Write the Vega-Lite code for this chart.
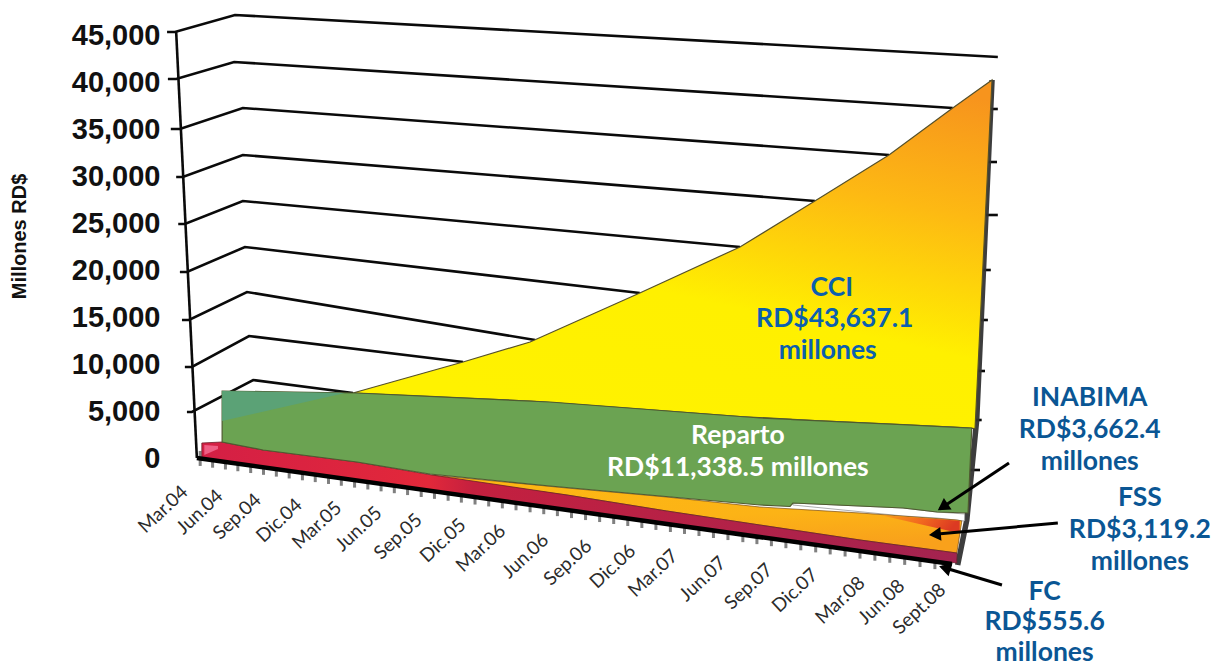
{
"$schema":"https://vega.github.io/schema/vega-lite/v6.json",
"width":1046,"height":666,"autosize":"none","padding":{"left":165,"top":0,"right":0,"bottom":0},
"background":"white","view":{"stroke":null},
"datasets":{
"grid":[
{"g":"45k","q":-0.95,"v":45326},{"g":"45k","q":-0.76,"v":45326},{"g":"45k","q":0.69,"v":47135},{"g":"45k","q":19.12,"v":42666},
{"g":"40k","q":-0.93,"v":40326},{"g":"40k","q":-0.73,"v":40326},{"g":"40k","q":0.67,"v":42134},{"g":"40k","q":18.03,"v":37240},
{"g":"35k","q":-0.86,"v":35006},{"g":"35k","q":-0.64,"v":35006},{"g":"35k","q":0.88,"v":37240},{"g":"35k","q":16.49,"v":32239},
{"g":"30k","q":-0.73,"v":29898},{"g":"30k","q":-0.57,"v":29898},{"g":"30k","q":0.88,"v":32239},{"g":"30k","q":14.70,"v":27345},
{"g":"25k","q":-0.68,"v":24898},{"g":"25k","q":-0.52,"v":24898},{"g":"25k","q":0.88,"v":27345},{"g":"25k","q":12.89,"v":22450},
{"g":"20k","q":-0.64,"v":19790},{"g":"20k","q":-0.47,"v":19790},{"g":"20k","q":0.93,"v":22450},{"g":"20k","q":10.47,"v":17556},
{"g":"15k","q":-0.59,"v":14683},{"g":"15k","q":-0.42,"v":14683},{"g":"15k","q":0.98,"v":17662},{"g":"15k","q":7.94,"v":12555},
{"g":"10k","q":-0.52,"v":9682},{"g":"10k","q":-0.35,"v":9682},{"g":"10k","q":1.03,"v":12981},{"g":"10k","q":6.20,"v":10214},
{"g":"5k","q":-0.47,"v":4894},{"g":"5k","q":-0.35,"v":4894},{"g":"5k","q":1.13,"v":8299},{"g":"5k","q":3.54,"v":6916},
{"g":"axis","q":-0.73,"v":45326},{"g":"axis","q":-0.23,"v":0}
],
"rightTicks":[
{"q":18.88,"q2":19.12,"v":37134},{"q":18.83,"q2":19.10,"v":31494},{"q":18.81,"q2":19.12,"v":25855},{"q":18.76,"q2":18.95,"v":20003},
{"q":18.69,"q2":18.88,"v":14683},{"q":18.56,"q2":18.81,"v":9257},{"q":18.51,"q2":18.73,"v":4043},{"q":18.44,"q2":18.69,"v":-1277}
],
"shadow":[{"q":18.98,"v":40219},{"q":18.61,"v":4043},{"q":18.37,"v":-6597},{"q":18.15,"v":-11385}],
"monthTicks":[
{"q":-0.15,"v":-48},{"q":0.15,"v":-233},{"q":0.46,"v":-425},{"q":0.76,"v":-610},{"q":1.07,"v":-802},{"q":1.38,"v":-994},{"q":1.69,"v":-1185},{"q":2.00,"v":-1377},{"q":2.32,"v":-1575},{"q":2.63,"v":-1767},{"q":2.95,"v":-1965},
{"q":3.26,"v":-2156},{"q":3.58,"v":-2354},{"q":3.90,"v":-2552},{"q":4.22,"v":-2750},{"q":4.54,"v":-2948},{"q":4.86,"v":-3146},{"q":5.19,"v":-3350},{"q":5.51,"v":-3548},{"q":5.84,"v":-3752},{"q":6.16,"v":-3950},
{"q":6.49,"v":-4154},{"q":6.82,"v":-4358},{"q":7.15,"v":-4562},{"q":7.48,"v":-4766},{"q":7.82,"v":-4977},{"q":8.15,"v":-5181},{"q":8.48,"v":-5385},{"q":8.82,"v":-5595},{"q":9.16,"v":-5805},{"q":9.50,"v":-6016},
{"q":9.84,"v":-6226},{"q":10.18,"v":-6436},{"q":10.52,"v":-6647},{"q":10.86,"v":-6857},{"q":11.21,"v":-7073},{"q":11.55,"v":-7284},{"q":11.90,"v":-7500},{"q":12.25,"v":-7717},{"q":12.60,"v":-7933},{"q":12.96,"v":-8156},
{"q":13.30,"v":-8366},{"q":13.65,"v":-8583},{"q":14.00,"v":-8799},{"q":14.36,"v":-9022},{"q":14.72,"v":-9244},{"q":15.07,"v":-9461},{"q":15.43,"v":-9683},{"q":15.79,"v":-9906},{"q":16.15,"v":-10129},{"q":16.51,"v":-10351},
{"q":16.87,"v":-10574},{"q":17.24,"v":-10803},{"q":17.60,"v":-11026},{"q":17.96,"v":-11248}
],
"cci":[
{"q":3.54,"v":6916,"v2":6916},{"q":6.20,"v":10214,"v2":6384},{"q":7.82,"v":12342,"v2":6065},{"q":10.47,"v":17556,"v2":5214},{"q":12.89,"v":22450,"v2":4416},{"q":14.70,"v":27345,"v2":3979},{"q":16.49,"v":32239,"v2":3618},{"q":18.03,"v":37240,"v2":3298},{"q":18.57,"v":38942,"v2":3139},{"q":18.98,"v":40219,"v2":40219}
],
"reparto":[
{"q":0.38,"v":7129,"v2":1702},{"q":1.37,"v":7065,"v2":851},{"q":3.64,"v":6916,"v2":-426},{"q":5.40,"v":6554,"v2":-1702},{"q":8.30,"v":5958,"v2":-2979},{"q":13.37,"v":4256,"v2":-5001},{"q":14.10,"v":4107,"v2":-5160},{"q":14.17,"v":4086,"v2":-4788},{"q":16.83,"v":3543,"v2":-5320},{"q":17.65,"v":3373,"v2":-5746},{"q":18.40,"v":3213,"v2":-5852},{"q":18.49,"v":3192,"v2":3192}
],
"repartoLight":[{"q":0.38,"v":7129,"v2":3936},{"q":3.35,"v":6916,"v2":6916}],
"inabima":[{"q":14.17,"v":-4788,"v2":-5001},{"q":16.83,"v":-5320,"v2":-6171},{"q":17.65,"v":-5746,"v2":-6384},{"q":18.32,"v":-5958,"v2":-6703}],
"fss":[
{"q":5.45,"v":-1809,"v2":-2022},{"q":8.71,"v":-3192,"v2":-3937},{"q":11.12,"v":-4150,"v2":-5639},{"q":13.37,"v":-5214,"v2":-7129},{"q":15.79,"v":-5852,"v2":-8725},{"q":18.13,"v":-6597,"v2":-10108},{"q":18.25,"v":-6703,"v2":-6703}
],
"fssHot":[{"q":16.27,"v":-6065,"v2":-6065},{"q":18.2,"v":-6680,"v2":-8000}],
"fc":[
{"q":-0.11,"v":1596,"v2":0},{"q":0.38,"v":1702,"v2":-319},{"q":1.37,"v":851,"v2":-958},{"q":3.64,"v":-426,"v2":-2341},{"q":5.45,"v":-1809,"v2":-3511},{"q":8.71,"v":-3937,"v2":-5533},{"q":11.12,"v":-5639,"v2":-7022},{"q":13.37,"v":-7129,"v2":-8406},{"q":15.79,"v":-8725,"v2":-9895},{"q":18.13,"v":-10108,"v2":-11172}
],
"fcPink":[{"q":-0.05,"v":1383,"v2":319},{"q":0.28,"v":1277,"v2":958}],
"baseline":[{"q":-0.23,"v":0},{"q":18.01,"v":-11278}],
"xlabels":[
{"t":"Mar.04","q":-0.52,"v":-3298},{"t":"Jun.04","q":0.33,"v":-3724},{"t":"Sep.04","q":1.25,"v":-4150},{"t":"Dic.04","q":2.24,"v":-4682},{"t":"Mar.05","q":3.20,"v":-5001},{"t":"Jun.05","q":4.17,"v":-5533},{"t":"Sep.05","q":5.14,"v":-6278},{"t":"Dic.05","q":6.20,"v":-6810},{"t":"Mar.06","q":7.16,"v":-7448},{"t":"Jun.06","q":8.20,"v":-8406},{"t":"Sep.06","q":9.24,"v":-9044},{"t":"Dic.06","q":10.30,"v":-9576},{"t":"Mar.07","q":11.32,"v":-10108},{"t":"Jun.07","q":12.48,"v":-10853},{"t":"Sep.07","q":13.61,"v":-11598},{"t":"Dic.07","q":14.70,"v":-12130},{"t":"Mar.08","q":15.84,"v":-12981},{"t":"Jun.08","q":16.80,"v":-13300},{"t":"Sept.08","q":17.79,"v":-13726}
],
"notesCci":[{"t":"CCI","q":15.11,"v":18088},{"t":"RD$43,637.1","q":15.18,"v":14790},{"t":"millones","q":15.01,"v":11385}],
"notesReparto":[{"t":"Reparto","q":12.84,"v":2340},{"t":"RD$11,338.5 millones","q":12.84,"v":-1064}],
"notesOther":[
{"t":"INABIMA","q":21.34,"v":6384},{"t":"RD$3,662.4","q":21.34,"v":2979},{"t":"millones","q":21.34,"v":-426},
{"t":"FSS","q":22.55,"v":-4256},{"t":"RD$3,119.2","q":22.55,"v":-7661},{"t":"millones","q":22.55,"v":-11066},
{"t":"FC","q":20.25,"v":-14258},{"t":"RD$555.6","q":20.25,"v":-17450},{"t":"millones","q":20.25,"v":-20750}
],
"arrows":[
{"a":"INABIMA","q":19.39,"v":-532},{"a":"INABIMA","q":17.72,"v":-5426},
{"a":"FSS","q":20.57,"v":-6916},{"a":"FSS","q":17.53,"v":-8150},
{"a":"FC","q":19.22,"v":-13513},{"a":"FC","q":17.77,"v":-11598}
],
"arrowHeads":[
{"a":"INABIMA","q":17.79,"v":-5214,"dir":236},{"a":"FSS","q":17.60,"v":-8129,"dir":265},{"a":"FC","q":17.84,"v":-11704,"dir":286.5}
]
},
"encoding":{
"x":{"field":"q","type":"quantitative","scale":{"domain":[-1,24.27],"nice":false,"zero":false},"axis":null},
"y":{"field":"v","type":"quantitative","stack":null,"scale":{"domain":[-22131,48731],"nice":false,"zero":false},
"axis":{"values":[0,5000,10000,15000,20000,25000,30000,35000,40000,45000],"format":",.0f","domain":false,"ticks":false,"grid":false,"labelFont":"Liberation Sans","labelFontWeight":"bold","labelFontSize":29,"labelColor":"#111111","labelPadding":5,"title":"Millones RD$","titleFont":"Liberation Sans","titleFontWeight":"bold","titleFontSize":20,"titleColor":"#111111","titleX":-136,"titleY":236,"titleAngle":-90}}
},
"layer":[
{"data":{"name":"grid"},"mark":{"type":"line","color":"#0a0a0a","strokeWidth":2.6,"clip":false},"encoding":{"detail":{"field":"g"}}},
{"data":{"name":"rightTicks"},"mark":{"type":"rule","color":"#0a0a0a","strokeWidth":2.6},"encoding":{"x2":{"field":"q2"}}},
{"data":{"name":"monthTicks"},"mark":{"type":"tick","orient":"vertical","size":15,"thickness":3,"color":"#4a4a4a"}},
{"data":{"name":"shadow"},"mark":{"type":"line","color":"#333333","strokeWidth":5.5,"opacity":0.95}},
{"data":{"name":"inabima"},"mark":{"type":"area","fill":"#ffffff","stroke":"#777777","strokeWidth":0.6},"encoding":{"y2":{"field":"v2"}}},
{"data":{"name":"fss"},"mark":{"type":"area","fill":{"gradient":"linear","x1":0,"y1":0,"x2":0.2,"y2":1,"stops":[{"offset":0,"color":"#fdb813"},{"offset":0.6,"color":"#fcb316"},{"offset":1,"color":"#f9a11b"}]},"stroke":"#7a4a10","strokeWidth":0.7},"encoding":{"y2":{"field":"v2"}}},
{"data":{"name":"fssHot"},"mark":{"type":"area","fill":{"gradient":"linear","x1":0,"y1":0,"x2":1,"y2":0.2,"stops":[{"offset":0,"color":"#f9a11b"},{"offset":0.55,"color":"#f26a1f"},{"offset":1,"color":"#dc3a22"}]}},"encoding":{"y2":{"field":"v2"}}},
{"data":{"name":"fc"},"mark":{"type":"area","fill":{"gradient":"linear","x1":0,"y1":0,"x2":1,"y2":0,"stops":[{"offset":0,"color":"#d41f45"},{"offset":0.3,"color":"#e2283a"},{"offset":0.36,"color":"#c4203f"},{"offset":1,"color":"#a32350"}]},"stroke":"#6b1f2a","strokeWidth":0.8},"encoding":{"y2":{"field":"v2"}}},
{"data":{"name":"fcPink"},"mark":{"type":"area","fill":"#ef5f85"},"encoding":{"y2":{"field":"v2"}}},
{"data":{"name":"cci"},"mark":{"type":"area","fill":{"gradient":"linear","x1":0.45,"y1":1,"x2":0.85,"y2":0,"stops":[{"offset":0,"color":"#fff200"},{"offset":0.35,"color":"#fff000"},{"offset":0.7,"color":"#fdb913"},{"offset":1,"color":"#f7941d"}]},"stroke":"#55502a","strokeWidth":1.2},"encoding":{"y2":{"field":"v2"}}},
{"data":{"name":"reparto"},"mark":{"type":"area","fill":"#6ba352","stroke":"#4f5a30","strokeWidth":1.2},"encoding":{"y2":{"field":"v2"}}},
{"data":{"name":"repartoLight"},"mark":{"type":"area","fill":"#5ba276"},"encoding":{"y2":{"field":"v2"}}},
{"data":{"name":"baseline"},"mark":{"type":"line","color":"#000000","strokeWidth":4.5}},
{"data":{"name":"arrows"},"mark":{"type":"line","color":"#000000","strokeWidth":3},"encoding":{"detail":{"field":"a"}}},
{"data":{"name":"arrowHeads"},"mark":{"type":"point","shape":"triangle-up","filled":true,"color":"#000000","size":190,"opacity":1},"encoding":{"angle":{"field":"dir","type":"quantitative","scale":null}}},
{"data":{"name":"xlabels"},"mark":{"type":"text","font":"Lato","fontSize":19,"angle":317,"align":"right","baseline":"middle","color":"#2b2b2b"},"encoding":{"text":{"field":"t"}}},
{"data":{"name":"notesCci"},"mark":{"type":"text","font":"Lato","fontWeight":"bold","fontSize":26.5,"align":"center","baseline":"middle","color":"#0b5fae"},"encoding":{"text":{"field":"t"}}},
{"data":{"name":"notesReparto"},"mark":{"type":"text","font":"Lato","fontWeight":"bold","fontSize":26.5,"align":"center","baseline":"middle","color":"#ffffff"},"encoding":{"text":{"field":"t"}}},
{"data":{"name":"notesOther"},"mark":{"type":"text","font":"Lato","fontWeight":"bold","fontSize":26.5,"align":"center","baseline":"middle","color":"#0a5694"},"encoding":{"text":{"field":"t"}}}
]
}
